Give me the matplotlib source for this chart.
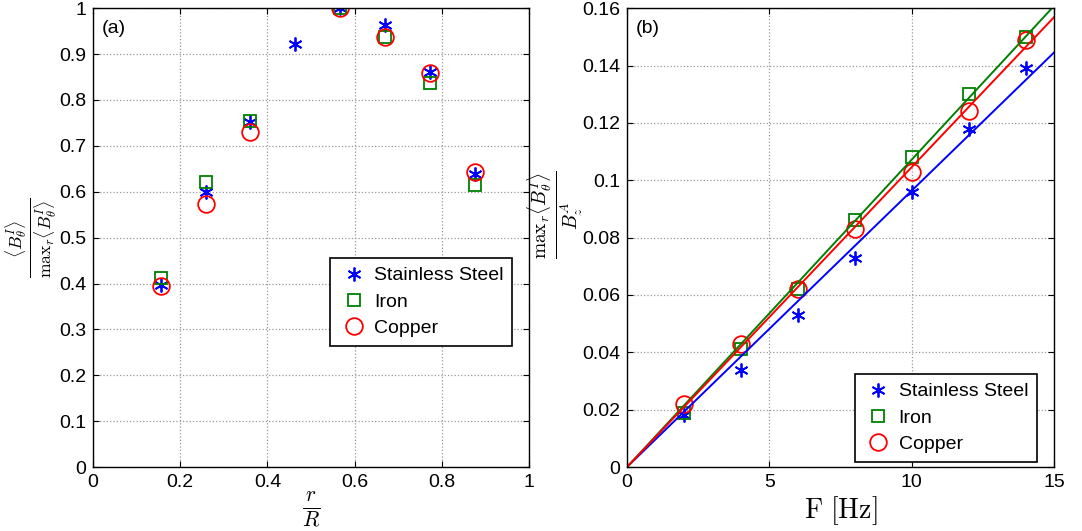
import numpy as np
import matplotlib
matplotlib.use("Agg")
import matplotlib.pyplot as plt

plt.rcParams["font.family"] = ["Liberation Sans", "DejaVu Sans"]
plt.rcParams["mathtext.fontset"] = "cm"

# Panel (a): normalised azimuthal field vs radius
r_steel = [0.155, 0.258, 0.361, 0.464, 0.567, 0.670, 0.773, 0.876]
a_steel = [0.397, 0.600, 0.752, 0.922, 1.000, 0.963, 0.862, 0.638]
r_other = [0.155, 0.258, 0.361, 0.567, 0.670, 0.773, 0.876]
a_iron = [0.413, 0.622, 0.755, 1.000, 0.937, 0.838, 0.615]
a_copper = [0.395, 0.573, 0.730, 1.000, 0.937, 0.858, 0.644]

# Panel (b): max field vs frequency
freq = [2, 4, 6, 8, 10, 12, 14]
b_steel = [0.018, 0.034, 0.053, 0.073, 0.096, 0.118, 0.139]
b_iron = [0.019, 0.041, 0.062, 0.086, 0.108, 0.130, 0.150]
b_copper = [0.022, 0.043, 0.062, 0.083, 0.103, 0.124, 0.149]

labels = ["Stainless Steel", "Iron", "Copper"]
colors = ["#0000ff", "#008000", "#ff0000"]
asterisk = (6, 2, 0)

fig = plt.figure(figsize=(10.82, 5.31), dpi=100)
ax1 = fig.add_axes([0.086, 0.1205, 0.403, 0.864])
ax2 = fig.add_axes([0.5795, 0.1205, 0.3946, 0.864])

ax1.plot(r_steel, a_steel, ls="none", marker=asterisk, ms=10, mew=1.3,
         color=colors[0], label=labels[0])
ax1.plot(r_other, a_iron, ls="none", marker="s", ms=9, mfc="none", mew=1.3,
         color=colors[1], label=labels[1])
ax1.plot(r_other, a_copper, ls="none", marker="o", ms=12, mfc="none", mew=1.3,
         color=colors[2], label=labels[2])

ax2.plot(freq, b_steel, ls="none", marker=asterisk, ms=10, mew=1.3,
         color=colors[0], label=labels[0])
ax2.plot(freq, b_iron, ls="none", marker="s", ms=9, mfc="none", mew=1.3,
         color=colors[1], label=labels[1])
ax2.plot(freq, b_copper, ls="none", marker="o", ms=12, mfc="none", mew=1.3,
         color=colors[2], label=labels[2])

# linear fits through the origin
f = np.array(freq, dtype=float)
fline = np.array([0.0, 15.0])
for vals, c in zip([b_steel, b_iron, b_copper], colors):
    slope = np.sum(f * np.array(vals)) / np.sum(f * f)
    ax2.plot(fline, slope * fline, color=c, lw=1.4)

for ax in (ax1, ax2):
    ax.grid(True, ls=":", color="#999999", lw=0.9)
    ax.tick_params(direction="in", top=True, right=True, labelsize=14,
                   length=4, color="black", pad=5)
    for s in ax.spines.values():
        s.set_linewidth(1.0)

ax1.set_xlim(0, 1)
ax1.set_ylim(0, 1)
ax1.set_xticks([0, 0.2, 0.4, 0.6, 0.8, 1])
ax1.set_xticklabels(["0", "0.2", "0.4", "0.6", "0.8", "1"])
ax1.set_yticks(np.arange(0, 1.01, 0.1))
ax1.set_yticklabels(["0", "0.1", "0.2", "0.3", "0.4", "0.5", "0.6", "0.7",
                     "0.8", "0.9", "1"])
ax1.set_xlabel(r"$\frac{r}{R}$", fontsize=22, labelpad=0)
ax1.set_ylabel(r"$\frac{\langle B_\theta^I\rangle}{\mathrm{max}_r\langle B_\theta^I\rangle}$",
               fontsize=18)
ax1.yaxis.set_label_coords(-0.078, 0.5)
ax1.text(0.02, 0.975, "(a)", transform=ax1.transAxes, fontsize=14,
         va="top", ha="left")

ax2.set_xlim(0, 15)
ax2.set_ylim(0, 0.16)
ax2.set_xticks([0, 5, 10, 15])
ax2.set_yticks(np.arange(0, 0.161, 0.02))
ax2.set_yticklabels(["0", "0.02", "0.04", "0.06", "0.08", "0.1", "0.12",
                     "0.14", "0.16"])
ax2.set_xlabel(r"$\mathrm{F\ [Hz]}$", fontsize=20, labelpad=2)
ax2.set_ylabel(r"$\frac{\mathrm{max}_r\langle B_\theta^I\rangle}{B_z^A}$",
               fontsize=20)
ax2.yaxis.set_label_coords(-0.098, 0.55)
ax2.text(0.02, 0.975, "(b)", transform=ax2.transAxes, fontsize=14,
         va="top", ha="left")

leg_kw = dict(fontsize=14, fancybox=False, edgecolor="black", framealpha=1,
              borderpad=0.45, handletextpad=0.3, labelspacing=0.45,
              handlelength=1.5, borderaxespad=0)
lg1 = ax1.legend(loc="lower left", bbox_to_anchor=(0.544, 0.264), **leg_kw)
lg2 = ax2.legend(loc="lower right", bbox_to_anchor=(0.96, 0.011), **leg_kw)
for lg in (lg1, lg2):
    lg.get_frame().set_linewidth(1.2)

fig.savefig("out.png", dpi=100)
